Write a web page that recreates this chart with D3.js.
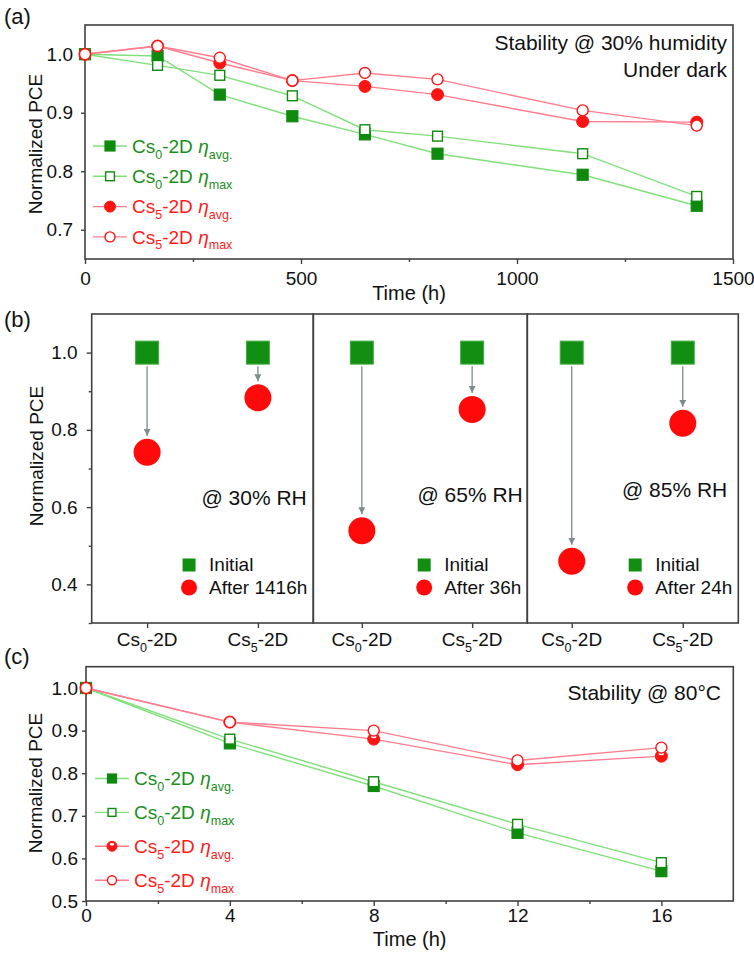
<!DOCTYPE html>
<html>
<head>
<meta charset="utf-8">
<script src="https://cdn.jsdelivr.net/npm/d3@7"></script>
<style>
  html, body { margin: 0; padding: 0; background: #fff; }
  svg { display: block; }
  text { font-family: "Liberation Sans", Arial, sans-serif; }
</style>
</head>
<body>
<script>
// ---------- data ----------
// (a) humidity stability (30 % RH, dark)
const timeA   = [0, 168, 312, 480, 648, 816, 1152, 1416];
const cs0AvgA = [1.000, 0.997, 0.931, 0.894, 0.863, 0.830, 0.794, 0.741];
const cs0MaxA = [1.000, 0.981, 0.964, 0.929, 0.871, 0.860, 0.830, 0.757];
const cs5AvgA = [1.000, 1.014, 0.985, 0.955, 0.945, 0.931, 0.885, 0.884];
const cs5MaxA = [1.000, 1.014, 0.994, 0.955, 0.968, 0.957, 0.904, 0.878];
const xTicksA = [0, 500, 1000, 1500];
const yTicksA = [0.7, 0.8, 0.9, 1.0];

// (b) before / after ageing at three humidity levels
const rhConditions = ["@ 30% RH", "@ 65% RH", "@ 85% RH"];
const agingTimes   = ["After 1416h", "After 36h", "After 24h"];
const samples      = [["Cs", "0"], ["Cs", "5"]];
const initialPCE   = [[1.0, 1.0], [1.0, 1.0], [1.0, 1.0]];
const agedPCE      = [[0.742, 0.883], [0.539, 0.853], [0.460, 0.817]];
const yTicksB      = [0.4, 0.6, 0.8, 1.0];
const yMinorB      = [0.3, 0.5, 0.7, 0.9];

// (c) thermal stability at 80 °C
const timeC   = [0, 4, 8, 12, 16];
const cs0AvgC = [1.00, 0.87, 0.77, 0.66, 0.57];
const cs0MaxC = [1.00, 0.88, 0.78, 0.68, 0.59];
const cs5AvgC = [1.00, 0.92, 0.88, 0.82, 0.84];
const cs5MaxC = [1.00, 0.92, 0.90, 0.83, 0.86];
const xTicksC = [0, 4, 8, 12, 16];
const yTicksC = [0.5, 0.6, 0.7, 0.8, 0.9, 1.0];

// ---------- styles ----------
const GREEN = "#0f8a0f", GREEN_LINE = "#80e07a", GREEN_TEXT = "#1a8e1a";
const RED = "#ff1414", RED_LINE = "#ff7d8e", RED_TEXT = "#ff1a1a";
const AXIS = "#404040";
const FONT = 19;

const svg = d3.select("body").append("svg")
  .attr("width", 754).attr("height", 955)
  .attr("viewBox", "0 0 754 955");
svg.append("rect").attr("width", 754).attr("height", 955).attr("fill", "#fff");

// text with sub-scripts / italics: parts = [{t, sub, it}]
function rich(textSel, parts, size) {
  let down = false;
  parts.forEach(p => {
    const ts = textSel.append("tspan").text(p.t);
    if (p.it) ts.attr("font-style", "italic");
    if (p.sub) {
      ts.attr("font-size", size * 0.66);
      if (!down) { ts.attr("dy", size * 0.3); down = true; }
    } else if (down) {
      ts.attr("dy", -size * 0.3); down = false;
    }
  });
  return textSel;
}

function styleAxis(g) {
  g.selectAll(".domain").remove();
  g.selectAll(".tick line").attr("stroke", AXIS).attr("stroke-width", 1.4);
  g.selectAll(".tick text").attr("fill", "#111").attr("font-size", FONT)
    .attr("font-family", "'Liberation Sans', Arial, sans-serif");
}

function frame(x0, y0, x1, y1) {
  svg.append("rect").attr("x", x0).attr("y", y0)
    .attr("width", x1 - x0).attr("height", y1 - y0)
    .attr("fill", "none").attr("stroke", AXIS).attr("stroke-width", 1.6);
}

function yTitle(x, y) {
  svg.append("text").attr("transform", `translate(${x},${y}) rotate(-90)`)
    .attr("text-anchor", "middle").attr("font-size", 19).attr("fill", "#111")
    .text("Normalized PCE");
}

function panelTag(label, x, y) {
  svg.append("text").attr("x", x).attr("y", y).attr("font-size", 22)
    .attr("fill", "#111").text(label);
}

// marker painter
function marker(g, kind, cx, cy, s) {
  const h = s / 2;
  if (kind === "sqFill") {
    g.append("rect").attr("x", cx - h).attr("y", cy - h).attr("width", s).attr("height", s)
      .attr("fill", GREEN).attr("stroke", GREEN).attr("stroke-width", 1.2);
  } else if (kind === "sqOpen") {
    g.append("rect").attr("x", cx - h + 0.6).attr("y", cy - h + 0.6)
      .attr("width", s - 1.2).attr("height", s - 1.2)
      .attr("fill", "#fff").attr("stroke", GREEN).attr("stroke-width", 1.4);
  } else if (kind === "ciFill") {
    g.append("circle").attr("cx", cx).attr("cy", cy).attr("r", h + 0.5)
      .attr("fill", RED).attr("stroke", RED).attr("stroke-width", 1);
  } else if (kind === "ciShine") {
    g.append("circle").attr("cx", cx).attr("cy", cy).attr("r", h + 0.5)
      .attr("fill", RED).attr("stroke", RED).attr("stroke-width", 1);
    g.append("ellipse").attr("cx", cx).attr("cy", cy - h * 0.45)
      .attr("rx", h * 0.5).attr("ry", h * 0.3).attr("fill", "#fff");
  } else if (kind === "ciOpen") {
    g.append("circle").attr("cx", cx).attr("cy", cy).attr("r", h)
      .attr("fill", "#fff").attr("stroke", RED).attr("stroke-width", 1.4);
  }
}

// line + markers for one series
function series(g, xs, ys, x, y, lineColor, kind, size) {
  const pts = xs.map((t, i) => [x(t), y(ys[i])]);
  g.append("path").attr("d", d3.line()(pts))
    .attr("fill", "none").attr("stroke", lineColor).attr("stroke-width", 1.4);
  pts.forEach(p => marker(g, kind, p[0], p[1], size));
}

function legendRows(g, x0, rows, gap, size, fs) {
  rows.forEach((r, i) => {
    const cy = rows.y0 + i * gap;
    g.append("line").attr("x1", x0 - 17).attr("x2", x0 + 17).attr("y1", cy).attr("y2", cy)
      .attr("stroke", r.line).attr("stroke-width", 1.4);
    marker(g, r.kind, x0, cy, size);
    const t = g.append("text").attr("x", x0 + 22).attr("y", cy + fs * 0.36)
      .attr("font-size", fs).attr("fill", r.text);
    rich(t, r.parts, fs);
  });
}

function lineSeriesDefs(seriesData) {
  return [
    { ys: seriesData[0], line: GREEN_LINE, kind: "sqFill", text: GREEN_TEXT, cs: "0", sub: "avg." },
    { ys: seriesData[1], line: GREEN_LINE, kind: "sqOpen", text: GREEN_TEXT, cs: "0", sub: "max" },
    { ys: seriesData[2], line: RED_LINE,   kind: null,     text: RED_TEXT,   cs: "5", sub: "avg." },
    { ys: seriesData[3], line: RED_LINE,   kind: "ciOpen", text: RED_TEXT,   cs: "5", sub: "max" }
  ];
}
const legendParts = d => [{ t: "Cs" }, { t: d.cs, sub: true }, { t: "-2D " },
                          { t: "η", it: true }, { t: d.sub, sub: true }];

// ================= panel (a) =================
{
  const L = 85, R = 733, T = 25, B = 259;
  const x = d3.scaleLinear().domain([0, 1500]).range([L, R]);
  const y = d3.scaleLinear().domain([0.65, 1.05]).range([B, T]);

  svg.append("g").attr("transform", `translate(0,${B})`)
    .call(d3.axisBottom(x).tickValues(xTicksA).tickSize(5).tickPadding(8).tickFormat(d3.format("d")))
    .call(styleAxis);
  svg.append("g").attr("transform", `translate(0,${B})`)
    .call(d3.axisBottom(x).tickValues([250, 750, 1250]).tickSize(3).tickFormat(""))
    .call(styleAxis);
  svg.append("g").attr("transform", `translate(${L},0)`)
    .call(d3.axisLeft(y).tickValues(yTicksA).tickSize(4).tickPadding(8).tickFormat(d3.format(".1f")))
    .call(styleAxis);
  frame(L, T, R, B);

  const defs = lineSeriesDefs([cs0AvgA, cs0MaxA, cs5AvgA, cs5MaxA]);
  defs[2].kind = "ciFill";
  const g = svg.append("g");
  defs.forEach(d => series(g, timeA, d.ys, x, y, d.line, d.kind, 11));

  const lg = svg.append("g");
  const rows = defs.map(d => ({ line: d.line, kind: d.kind, text: d.text, parts: legendParts(d) }));
  rows.y0 = 146;
  legendRows(lg, 110, rows, 30.3, 10, 19);

  svg.append("text").attr("x", 727).attr("y", 50).attr("text-anchor", "end")
    .attr("font-size", 21).attr("fill", "#111").text("Stability @ 30% humidity");
  svg.append("text").attr("x", 727).attr("y", 77).attr("text-anchor", "end")
    .attr("font-size", 21).attr("fill", "#111").text("Under dark");
  svg.append("text").attr("x", (L + R) / 2).attr("y", 300).attr("text-anchor", "middle")
    .attr("font-size", 20).attr("fill", "#111").text("Time (h)");
  yTitle(42, 144);
  panelTag("(a)", 4, 24);
}

// ================= panel (b) =================
{
  const T = 314, B = 623;
  const y = d3.scaleLinear().domain([0.3, 1.1]).range([B, T]);
  const cells = [
    { x0: 91.7,  x1: 313.3, dom: [0.50, 2.5], tag: { dx: 6.5, y: 505 } },
    { x0: 313.3, x1: 527.3, dom: [0.56, 2.5], tag: { dx: 4.5, y: 502 } },
    { x0: 527.3, x1: 738.3, dom: [0.60, 2.5], tag: { dx: 11, y: 497 } }
  ];

  svg.append("g").attr("transform", `translate(${cells[0].x0},0)`)
    .call(d3.axisLeft(y).tickValues(yTicksB).tickSize(5).tickPadding(9).tickFormat(d3.format(".1f")))
    .call(styleAxis);
  svg.append("g").attr("transform", `translate(${cells[0].x0},0)`)
    .call(d3.axisLeft(y).tickValues(yMinorB).tickSize(3).tickFormat(""))
    .call(styleAxis);

  const defsEl = svg.append("defs");
  defsEl.append("marker").attr("id", "arrowHead").attr("viewBox", "0 0 10 10")
    .attr("refX", 10).attr("refY", 5).attr("markerWidth", 7).attr("markerHeight", 7)
    .attr("markerUnits", "userSpaceOnUse").attr("orient", "auto")
    .append("path").attr("d", "M0,0 L10,5 L0,10 Z").attr("fill", "#7d8c8c");

  const SQ = 23, RC = 13.5;
  cells.forEach((c, k) => {
    const x = d3.scaleLinear().domain(c.dom).range([c.x0, c.x1]);
    const positions = [1, 2];

    svg.append("g").attr("transform", `translate(0,${B})`)
      .call(d3.axisBottom(x).tickValues(positions).tickSize(5).tickPadding(4).tickFormat(""))
      .call(styleAxis);
    positions.forEach((p, i) => {
      const t = svg.append("text").attr("x", x(p)).attr("y", 646).attr("text-anchor", "middle")
        .attr("font-size", 19).attr("fill", "#111");
      rich(t, [{ t: samples[i][0] }, { t: samples[i][1], sub: true }, { t: "-2D" }], 19);
    });

    positions.forEach((p, i) => {
      const cx = x(p), y0 = y(initialPCE[k][i]), y1 = y(agedPCE[k][i]);
      svg.append("line").attr("x1", cx).attr("x2", cx)
        .attr("y1", y0 + SQ / 2 + 2).attr("y2", y1 - RC - 3)
        .attr("stroke", "#7d8c8c").attr("stroke-width", 1.3)
        .attr("marker-end", "url(#arrowHead)");
      svg.append("rect").attr("x", cx - SQ / 2).attr("y", y0 - SQ / 2)
        .attr("width", SQ).attr("height", SQ)
        .attr("fill", "#128f12").attr("stroke", "#3fae3f").attr("stroke-width", 1);
      svg.append("circle").attr("cx", cx).attr("cy", y1).attr("r", RC).attr("fill", "#ff0a0a");
    });

    svg.append("text").attr("x", c.x1 - c.tag.dx).attr("y", c.tag.y).attr("text-anchor", "end")
      .attr("font-size", 21).attr("fill", "#111").text(rhConditions[k]);

    // legend, right-aligned in its cell
    const lg = svg.append("g");
    const t1 = lg.append("text").attr("y", 571).attr("font-size", 19).attr("fill", "#111").text("Initial");
    const t2 = lg.append("text").attr("y", 594).attr("font-size", 19).attr("fill", "#111").text(agingTimes[k]);
    const w = Math.max(t1.node().getComputedTextLength(), t2.node().getComputedTextLength());
    const tx = c.x1 - 6 - w;
    t1.attr("x", tx); t2.attr("x", tx);
    lg.append("rect").attr("x", tx - 20 - 6.5).attr("y", 565 - 6.5).attr("width", 13).attr("height", 13)
      .attr("fill", "#128f12");
    lg.append("circle").attr("cx", tx - 20).attr("cy", 587.5).attr("r", 8).attr("fill", "#ff0a0a");

    frame(c.x0, T, c.x1, B);
  });

  yTitle(43, 456);
  panelTag("(b)", 4, 327);
}

// ================= panel (c) =================
{
  const L = 86, R = 733.3, T = 666.7, B = 901;
  const x = d3.scaleLinear().domain([0, 18]).range([L, R]);
  const y = d3.scaleLinear().domain([0.5, 1.05]).range([B, T]);

  svg.append("g").attr("transform", `translate(0,${B})`)
    .call(d3.axisBottom(x).tickValues(xTicksC).tickSize(5).tickPadding(3).tickFormat(d3.format("d")))
    .call(styleAxis);
  svg.append("g").attr("transform", `translate(0,${B})`)
    .call(d3.axisBottom(x).tickValues([2, 6, 10, 14]).tickSize(3).tickFormat(""))
    .call(styleAxis);
  svg.append("g").attr("transform", `translate(${L},0)`)
    .call(d3.axisLeft(y).tickValues(yTicksC).tickSize(4).tickPadding(4).tickFormat(d3.format(".1f")))
    .call(styleAxis);
  frame(L, T, R, B);

  const defs = lineSeriesDefs([cs0AvgC, cs0MaxC, cs5AvgC, cs5MaxC]);
  defs[2].kind = "ciShine";
  const g = svg.append("g");
  defs.forEach(d => series(g, timeC, d.ys, x, y, d.line, d.kind, 11));

  const lg = svg.append("g");
  const rows = defs.map(d => ({ line: d.line, kind: d.kind, text: d.text, parts: legendParts(d) }));
  rows.y0 = 778.5;
  legendRows(lg, 112, rows, 33.9, 9, 19);

  svg.append("text").attr("x", 721).attr("y", 700).attr("text-anchor", "end")
    .attr("font-size", 21).attr("fill", "#111").text("Stability @ 80°C");
  svg.append("text").attr("x", (L + R) / 2).attr("y", 946).attr("text-anchor", "middle")
    .attr("font-size", 20).attr("fill", "#111").text("Time (h)");
  yTitle(42, 783);
  panelTag("(c)", 4, 664);
}
</script>
</body>
</html>
